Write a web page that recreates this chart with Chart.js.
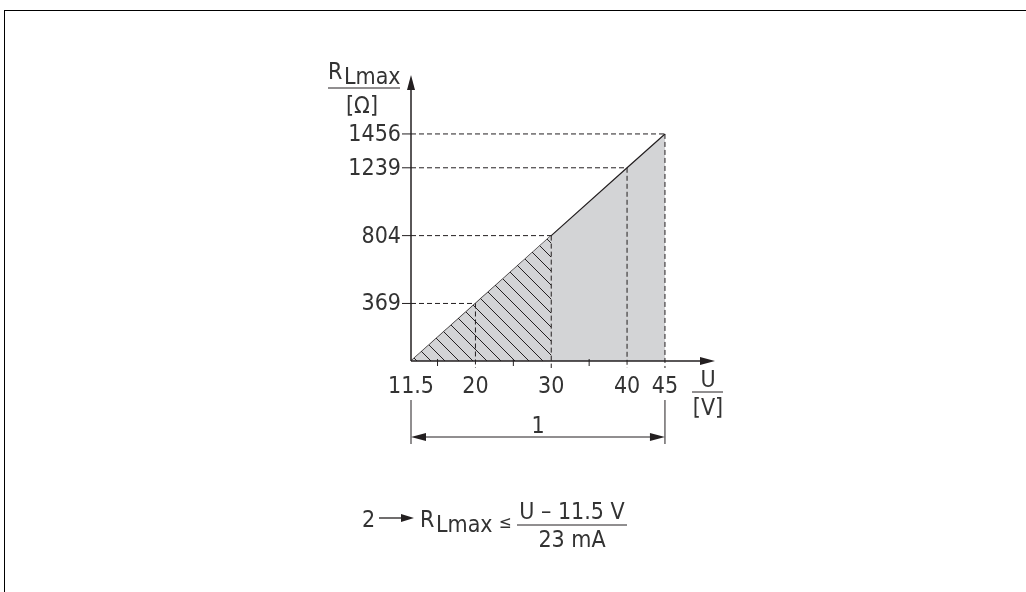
<!DOCTYPE html>
<html>
<head>
<meta charset="utf-8">
<script src="https://cdn.jsdelivr.net/npm/chart.js@4.4.1/dist/chart.umd.min.js"></script>
<style>
    html, body { margin: 0; padding: 0; background: #fff; }
    #wrap { position: relative; width: 1026px; height: 592px; overflow: hidden; }
    #frame { position: absolute; left: 4px; top: 10px; right: -2px; bottom: -2px;
             border-top: 1px solid #000; border-left: 1px solid #000; }
    canvas { position: absolute; left: 0; top: 0; }
</style>
</head>
<body>
<div id="wrap">
    <div id="frame"></div>
    <canvas id="loadChart" width="1026" height="592"></canvas>
</div>
<script>
// values
const voltages = [11.5, 20, 30, 40, 45];           // U [V]
const loads = [0, 369, 804, 1239, 1456];           // R_Lmax [Ω]
const xTickLabels = ['11.5', '20', '30', '40', '45'];
const yTickLabels = ['', '369', '804', '1239', '1456'];
const minorTicks = [15, 25, 35];
const hatchUntil = 30;

const FONT = '"DejaVu Sans Condensed", "DejaVu Sans", sans-serif';
const INK = '#231f20';
const TEXT = '#333';
const GREY = '#d3d4d6';

function hatchPattern() {
    const s = 14;
    const c = document.createElement('canvas');
    c.width = s;
    c.height = s;
    const g = c.getContext('2d');
    g.fillStyle = GREY;
    g.fillRect(0, 0, s, s);
    g.strokeStyle = INK;
    g.lineWidth = 1;
    g.beginPath();
    g.moveTo(-3, -3); g.lineTo(s + 3, s + 3);
    g.moveTo(-3, s - 3); g.lineTo(3, s + 3);
    g.moveTo(s - 3, -3); g.lineTo(s + 3, 3);
    g.stroke();
    return g.createPattern(c, 'repeat');
}

function arrow(ctx, x1, y1, x2, y2, len, half) {
    const a = Math.atan2(y2 - y1, x2 - x1);
    ctx.beginPath();
    ctx.moveTo(x2, y2);
    ctx.lineTo(x2 - len * Math.cos(a) + half * Math.sin(a), y2 - len * Math.sin(a) - half * Math.cos(a));
    ctx.lineTo(x2 - len * Math.cos(a) - half * Math.sin(a), y2 - len * Math.sin(a) + half * Math.cos(a));
    ctx.closePath();
    ctx.fill();
}

function line(ctx, x1, y1, x2, y2) {
    ctx.beginPath();
    ctx.moveTo(x1, y1);
    ctx.lineTo(x2, y2);
    ctx.stroke();
}

const diagramPlugin = {
    id: 'diagram',
    afterDatasetsDraw(chart) {
        const ctx = chart.ctx;
        const xs = chart.scales.x;
        const ys = chart.scales.y;
        const x0 = xs.getPixelForValue(voltages[0]);
        const y0 = ys.getPixelForValue(0);
        const area = chart.chartArea;

        ctx.save();
        ctx.strokeStyle = INK;
        ctx.fillStyle = INK;

        // dashed guides
        ctx.lineWidth = 1;
        ctx.setLineDash([5, 3]);
        for (let i = 1; i < voltages.length; i++) {
            const px = xs.getPixelForValue(voltages[i]);
            const py = ys.getPixelForValue(loads[i]);
            line(ctx, x0, py, px, py);
            line(ctx, px, py, px, y0 + 7);
        }
        ctx.setLineDash([]);

        // axes with arrows
        ctx.lineWidth = 1.5;
        line(ctx, x0, y0, x0, area.top + 10);
        arrow(ctx, x0, y0, x0, area.top, 15, 4);
        line(ctx, x0, y0, area.right - 10, y0);
        arrow(ctx, x0, y0, area.right, y0, 15, 4);

        // ticks
        ctx.lineWidth = 1;
        for (let i = 1; i < loads.length; i++) {
            const py = ys.getPixelForValue(loads[i]);
            line(ctx, x0 - 9, py, x0, py);
        }
        minorTicks.forEach(v => {
            const px = xs.getPixelForValue(v);
            line(ctx, px, y0 - 2, px, y0 + 5);
        });

        // tick labels
        ctx.fillStyle = TEXT;
        ctx.font = '23px ' + FONT;
        ctx.textBaseline = 'middle';
        ctx.textAlign = 'right';
        yTickLabels.forEach((t, i) => {
            if (t) ctx.fillText(t, x0 - 10, ys.getPixelForValue(loads[i]) + 1);
        });
        ctx.textAlign = 'center';
        xTickLabels.forEach((t, i) => {
            ctx.fillText(t, xs.getPixelForValue(voltages[i]), y0 + 26);
        });

        // axis titles
        ctx.textBaseline = 'alphabetic';
        ctx.textAlign = 'left';
        ctx.fillText('R', 328, 79);
        ctx.fillText('Lmax', 344, 84);
        line(ctx, 328, 88, 400, 88);
        ctx.textAlign = 'center';
        ctx.fillText('[Ω]', 362, 113);

        ctx.fillText('U', 708, 387);
        line(ctx, 692, 392, 723, 392);
        ctx.fillText('[V]', 708, 415);

        // dimension "1"
        const xEnd = xs.getPixelForValue(voltages[voltages.length - 1]);
        ctx.fillStyle = INK;
        line(ctx, x0, 400, x0, 444);
        line(ctx, xEnd, 400, xEnd, 444);
        line(ctx, x0 + 10, 437, xEnd - 10, 437);
        arrow(ctx, xEnd, 437, x0, 437, 15, 4);
        arrow(ctx, x0, 437, xEnd, 437, 15, 4);
        ctx.fillStyle = TEXT;
        ctx.fillText('1', (x0 + xEnd) / 2, 433);

        // formula "2"
        ctx.textAlign = 'left';
        ctx.fillText('2', 362, 527);
        ctx.fillStyle = INK;
        ctx.lineWidth = 1.3;
        line(ctx, 379, 518, 402, 518);
        arrow(ctx, 379, 518, 414, 518, 13, 4);
        ctx.fillStyle = TEXT;
        ctx.fillText('R', 420, 527);
        ctx.fillText('Lmax', 436, 532);
        ctx.font = '17px ' + FONT;
        ctx.fillText('≤', 499, 528);
        ctx.font = '23px ' + FONT;
        ctx.lineWidth = 1;
        line(ctx, 517, 525, 627, 525);
        ctx.textAlign = 'center';
        ctx.fillText('U – 11.5 V', 572, 519);
        ctx.fillText('23 mA', 572, 547);

        ctx.restore();
    }
};

const points = voltages.map((v, i) => ({x: v, y: loads[i]}));
const hatchPoints = points.filter(p => p.x <= hatchUntil);

new Chart(document.getElementById('loadChart'), {
    type: 'scatter',
    data: {
        datasets: [
            {
                data: hatchPoints,
                showLine: true,
                borderWidth: 0,
                borderColor: 'rgba(0,0,0,0)',
                backgroundColor: hatchPattern(),
                fill: 'origin',
                pointRadius: 0,
                order: 1
            },
            {
                data: points,
                showLine: true,
                borderWidth: 1.2,
                borderColor: INK,
                backgroundColor: GREY,
                fill: 'origin',
                pointRadius: 0,
                order: 2
            }
        ]
    },
    options: {
        responsive: false,
        animation: false,
        events: [],
        layout: {
            padding: {left: 411, top: 75, right: 311, bottom: 231}
        },
        plugins: {
            legend: {display: false},
            tooltip: {enabled: false}
        },
        scales: {
            x: {type: 'linear', display: false, min: 11.5, max: 51.6},
            y: {type: 'linear', display: false, min: 0, max: 1834}
        }
    },
    plugins: [diagramPlugin]
});
</script>
</body>
</html>
